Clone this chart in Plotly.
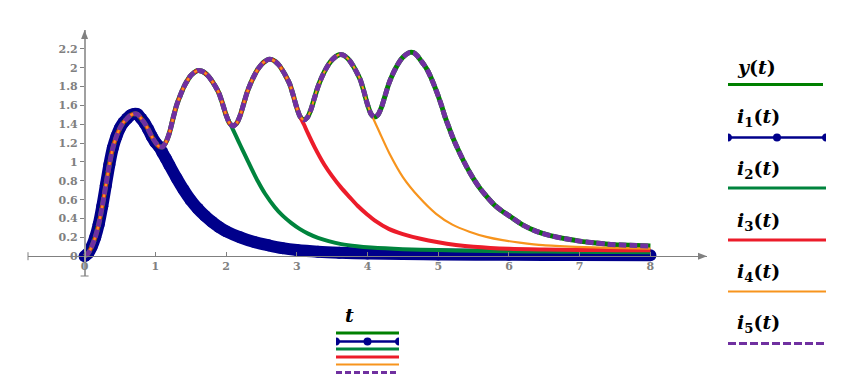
import plotly.graph_objects as go

# ---------------- data ----------------
t_y = [0.00, 0.05, 0.10, 0.15, 0.20, 0.25, 0.30, 0.35, 0.40, 0.45,
       0.50, 0.55, 0.60, 0.65, 0.70, 0.75, 0.80, 0.85, 0.90, 0.95,
       1.00, 1.05, 1.10, 1.15, 1.20, 1.25, 1.30, 1.35, 1.40, 1.45,
       1.50, 1.55, 1.60, 1.65, 1.70, 1.75, 1.80, 1.85, 1.90, 1.95,
       2.00, 2.05, 2.10, 2.15, 2.20, 2.25, 2.30, 2.35, 2.40, 2.45,
       2.50, 2.55, 2.60, 2.65, 2.70, 2.75, 2.80, 2.85, 2.90, 2.95,
       3.00, 3.05, 3.10, 3.15, 3.20, 3.25, 3.30, 3.35, 3.40, 3.45,
       3.50, 3.55, 3.60, 3.65, 3.70, 3.75, 3.80, 3.85, 3.90, 3.95,
       4.00, 4.05, 4.10, 4.15, 4.20, 4.25, 4.30, 4.35, 4.40, 4.45,
       4.50, 4.55, 4.60, 4.65, 4.70, 4.75, 4.80, 4.85, 4.90, 4.95,
       5.00, 5.05, 5.10, 5.15, 5.20, 5.30, 5.40, 5.50, 5.60, 5.70,
       5.80, 5.90, 6.00, 6.20, 6.40, 6.60, 6.80, 7.00, 7.20, 7.40,
       7.60, 7.80, 8.00]
y_vals = [0.00, 0.03, 0.10, 0.20, 0.34, 0.53, 0.75, 0.97, 1.15, 1.27,
          1.36, 1.42, 1.46, 1.495, 1.51, 1.505, 1.46, 1.41, 1.345, 1.27,
          1.21, 1.165, 1.16, 1.21, 1.31, 1.46, 1.60, 1.70, 1.79, 1.86,
          1.915, 1.95, 1.97, 1.965, 1.945, 1.91, 1.86, 1.80, 1.73, 1.62,
          1.50, 1.41, 1.382, 1.41, 1.494, 1.618, 1.742, 1.838, 1.917, 1.984,
          2.033, 2.067, 2.088, 2.085, 2.063, 2.026, 1.97, 1.904, 1.827, 1.707,
          1.576, 1.478, 1.447, 1.473, 1.556, 1.678, 1.799, 1.893, 1.971, 2.036,
          2.084, 2.118, 2.138, 2.135, 2.112, 2.073, 2.016, 1.948, 1.869, 1.746,
          1.610, 1.509, 1.477, 1.503, 1.585, 1.706, 1.827, 1.920, 1.997, 2.062,
          2.11, 2.143, 2.163, 2.16, 2.13, 2.08, 2.03, 1.97, 1.89, 1.80,
          1.70, 1.59, 1.47, 1.37, 1.27, 1.10, 0.95, 0.82, 0.71, 0.62,
          0.54, 0.48, 0.43, 0.33, 0.26, 0.215, 0.185, 0.16, 0.142, 0.128,
          0.119, 0.113, 0.108]

# departure time of each i_k from y(t), then its decaying tail
departures = [1.05, 2.00, 3.05, 4.05]

i1_tail_t = [1.10, 1.15, 1.20, 1.30, 1.40, 1.50, 1.60, 1.70, 1.80, 1.90, 2.00, 2.20,
             2.40, 2.60, 2.80, 3.00, 3.30, 3.60, 4.00, 4.50, 5.00, 6.00, 7.00, 8.00]
i1_tail_v = [1.10, 1.035, 0.965, 0.83, 0.705, 0.595, 0.505, 0.43, 0.365, 0.31, 0.265, 0.20,
             0.15, 0.115, 0.085, 0.065, 0.047, 0.037, 0.029, 0.023, 0.019, 0.015, 0.012, 0.01]

i2_tail_t = [2.05, 2.10, 2.15, 2.20, 2.26, 2.35, 2.45, 2.55, 2.69, 2.80, 2.92, 3.04, 3.16,
             3.30, 3.45, 3.63, 3.85, 4.05, 4.50, 5.00, 5.50, 6.00, 6.50, 7.00, 7.50, 8.00]
i2_tail_v = [1.42, 1.34, 1.26, 1.18, 1.085, 0.945, 0.795, 0.665, 0.52, 0.43, 0.354, 0.29, 0.24,
             0.195, 0.16, 0.128, 0.105, 0.092, 0.075, 0.065, 0.058, 0.053, 0.049, 0.046, 0.044, 0.043]

i3_tail_t = [3.10, 3.16, 3.25, 3.39, 3.50, 3.63, 3.75, 3.86, 4.00, 4.10, 4.30, 4.50, 4.75,
             5.00, 5.25, 5.50, 6.00, 6.50, 7.00, 7.50, 8.00]
i3_tail_v = [1.40, 1.30, 1.16, 0.97, 0.85, 0.725, 0.625, 0.535, 0.44, 0.38, 0.29, 0.235, 0.185,
             0.148, 0.12, 0.10, 0.078, 0.07, 0.066, 0.064, 0.063]

i4_tail_t = [4.10, 4.17, 4.31, 4.50, 4.73, 4.97, 5.20, 5.44, 5.68, 5.91, 6.15, 6.48, 6.95, 7.42, 8.00]
i4_tail_v = [1.43, 1.315, 1.09, 0.84, 0.625, 0.45, 0.335, 0.26, 0.205, 0.17, 0.145, 0.117, 0.099, 0.088, 0.081]

x_ticks = [0, 1, 2, 3, 4, 5, 6, 7, 8]
y_ticks = [0, 0.2, 0.4, 0.6, 0.8, 1, 1.2, 1.4, 1.6, 1.8, 2, 2.2]
y_tick_text = ["0", "0.2", "0.4", "0.6", "0.8", "1", "1.2", "1.4", "1.6", "1.8", "2", "2.2"]

# ---------------- build series ----------------
def branch(dep, tail_t, tail_v):
    n = sum(1 for t in t_y if t <= dep + 1e-9)
    return t_y[:n] + tail_t, y_vals[:n] + tail_v

i1_t, i1_v = branch(departures[0], i1_tail_t, i1_tail_v)
i2_t, i2_v = branch(departures[1], i2_tail_t, i2_tail_v)
i3_t, i3_v = branch(departures[2], i3_tail_t, i3_tail_v)
i4_t, i4_v = branch(departures[3], i4_tail_t, i4_tail_v)
i5_t, i5_v = t_y, y_vals

C_Y = "#008000"
C_I1 = "#00008b"
C_I2 = "#00843d"
C_I3 = "#ec1c2a"
C_I4 = "#f7941d"
C_I5 = "#7030a0"
GREY = "#808080"

fig = go.Figure()
sp = dict(shape="spline", smoothing=0.8)
fig.add_trace(go.Scatter(x=i1_t, y=i1_v, mode="lines+markers",
                         line=dict(color=C_I1, width=12, **sp),
                         marker=dict(color=C_I1, size=12), cliponaxis=False))
fig.add_trace(go.Scatter(x=t_y, y=y_vals, mode="lines", line=dict(color=C_Y, width=5, **sp)))
fig.add_trace(go.Scatter(x=i2_t, y=i2_v, mode="lines", line=dict(color=C_I2, width=4, **sp)))
fig.add_trace(go.Scatter(x=i3_t, y=i3_v, mode="lines", line=dict(color=C_I3, width=4, **sp)))
fig.add_trace(go.Scatter(x=i4_t, y=i4_v, mode="lines", line=dict(color=C_I4, width=2.2, **sp)))
fig.add_trace(go.Scatter(x=i5_t, y=i5_v, mode="lines",
                         line=dict(color=C_I5, width=5, dash="8px,3px", **sp)))

# ---------------- layout / axes ----------------
OFF = 8                      # page body margin of the html page
W, H = 850, 392
L, T = 28 - OFF, 30 - OFF    # screen position of plot area: x 28..707, y 30..276
PW, PH = 679, 246
R, B = W - L - PW, H - T - PH
XR = [-0.8, 8.8]
YR = [-0.21, 2.40]
x_pos = (0 - YR[0]) / (YR[1] - YR[0])   # paper-y of the x axis (y = 0)
y_pos = (0 - XR[0]) / (XR[1] - XR[0])   # paper-x of the y axis (t = 0)

def px_x(p):
    return (p - OFF - L) / PW

def px_y(p):
    return (T + PH - (p - OFF)) / PH

tickfont = dict(family="DejaVu Serif", size=11, color=GREY, weight="bold")
fig.update_layout(
    width=W, height=H, margin=dict(l=L, r=R, t=T, b=B, autoexpand=False),
    plot_bgcolor="white", paper_bgcolor="white", showlegend=False,
    xaxis=dict(range=XR, anchor="free", position=x_pos, showline=True, linecolor=GREY,
               linewidth=1, ticks="inside", ticklen=4, tickcolor=GREY, automargin=False,
               tickvals=x_ticks, ticktext=[str(v) for v in x_ticks], tickfont=tickfont,
               showgrid=False, zeroline=False),
    yaxis=dict(range=YR, anchor="free", position=y_pos, showline=True, linecolor="#a0a0a0",
               linewidth=1.5, ticks="outside", ticklen=4, tickcolor=GREY, automargin=False,
               tickvals=y_ticks, ticktext=y_tick_text, tickfont=tickfont,
               showgrid=False, zeroline=False),
)

shapes = []
# arrow heads and end bars of the axes
shapes.append(dict(type="path", xref="paper", yref="paper", xsizemode="pixel", ysizemode="pixel",
                   xanchor=1.0, yanchor=x_pos, path="M -9,-3.5 L 0,0 L -9,3.5 Z",
                   fillcolor=GREY, line=dict(width=0)))
shapes.append(dict(type="path", xref="paper", yref="paper", xsizemode="pixel", ysizemode="pixel",
                   xanchor=y_pos, yanchor=1.0, path="M -3.5,-9 L 0,0 L 3.5,-9 Z",
                   fillcolor=GREY, line=dict(width=0)))
shapes.append(dict(type="path", xref="paper", yref="paper", xsizemode="pixel", ysizemode="pixel",
                   xanchor=0.0, yanchor=x_pos, path="M 0,-4 L 0,4",
                   line=dict(color=GREY, width=1)))
shapes.append(dict(type="path", xref="paper", yref="paper", xsizemode="pixel", ysizemode="pixel",
                   xanchor=y_pos, yanchor=0.0, path="M -4,0 L 4,0",
                   line=dict(color=GREY, width=1)))

def hline(x0, x1, yp, color, width, dash="solid"):
    shapes.append(dict(type="line", xref="paper", yref="paper",
                       x0=px_x(x0), x1=px_x(x1), y0=px_y(yp), y1=px_y(yp),
                       line=dict(color=color, width=width, dash=dash)))

def dot(xp, yp, color, r):
    shapes.append(dict(type="circle", xref="paper", yref="paper", xsizemode="pixel", ysizemode="pixel",
                       xanchor=px_x(xp), yanchor=px_y(yp), x0=-r, x1=r, y0=-r, y1=r,
                       fillcolor=color, line=dict(width=0)))

def half(xp, yp, color, r, side):
    k = 1.333 * r * side
    shapes.append(dict(type="path", xref="paper", yref="paper", xsizemode="pixel", ysizemode="pixel",
                       xanchor=px_x(xp), yanchor=px_y(yp),
                       path=f"M 0,{-r} C {k},{-r} {k},{r} 0,{r} Z",
                       fillcolor=color, line=dict(width=0)))

def marked_line(x0, x1, yp, r):
    hline(x0, x1, yp, C_I1, 2.5)
    half(x0, yp, C_I1, r, 1)
    half(x1, yp, C_I1, r, -1)
    dot((x0 + x1) / 2, yp, C_I1, r)

# right-hand legend
lx0, lx1 = 728, 826
hline(lx0, lx1 - 3, 84.5, C_Y, 3)
marked_line(lx0, lx1, 137.5, 4)
hline(lx0, lx1, 188, C_I2, 3)
hline(lx0, lx1, 240, C_I3, 3)
hline(lx0, lx1, 291.5, C_I4, 2)
hline(lx0, lx1, 343.5, C_I5, 3, dash="8px,3px")

# bottom x-label legend
bx0, bx1 = 336, 399
hline(bx0, bx1, 333, C_Y, 3)
marked_line(bx0, bx1, 341.5, 4)
hline(bx0, bx1, 349, C_I2, 3)
hline(bx0, bx1, 357, C_I3, 3)
hline(bx0, bx1, 364.5, C_I4, 2)
hline(bx0, bx1, 372.5, C_I5, 3, dash="6px,3px")

annotations = []
mfont = dict(family="DejaVu Serif", size=19, color="black")
labels = [("<b><i>y</i>(<i>t</i>)</b>", 67),
          ("<b><i>i</i><sub>1</sub>(<i>t</i>)</b>", 118),
          ("<b><i>i</i><sub>2</sub>(<i>t</i>)</b>", 169),
          ("<b><i>i</i><sub>3</sub>(<i>t</i>)</b>", 221),
          ("<b><i>i</i><sub>4</sub>(<i>t</i>)</b>", 272),
          ("<b><i>i</i><sub>5</sub>(<i>t</i>)</b>", 323)]
for txt, yp in labels:
    annotations.append(dict(text=txt, xref="paper", yref="paper", x=px_x(735), y=px_y(yp),
                            xanchor="left", yanchor="middle", showarrow=False, font=mfont))
annotations.append(dict(text="<b><i>t</i></b>", xref="paper", yref="paper", x=px_x(349), y=px_y(315),
                        xanchor="center", yanchor="middle", showarrow=False, font=mfont))

fig.update_layout(shapes=shapes, annotations=annotations)
fig.write_html("out.html")
